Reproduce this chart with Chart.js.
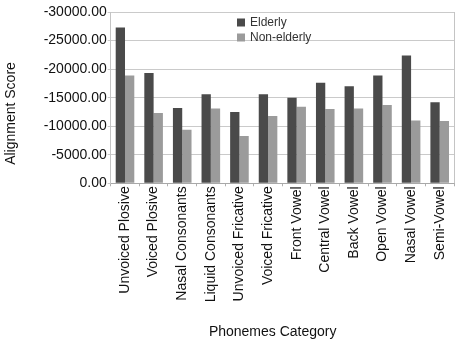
<!DOCTYPE html>
<html><head><meta charset="utf-8">
<script src="https://cdn.jsdelivr.net/npm/chart.js@4"></script>
<style>html,body{margin:0;padding:0;background:#fff;}#wrap{width:457px;height:342px;position:relative;}</style>
</head><body><div id="wrap"><canvas id="c" width="457" height="342"></canvas></div>
<script>
const categories = ["Unvoiced Plosive","Voiced Plosive","Nasal Consonants","Liquid Consonants","Unvoiced Fricative","Voiced Fricative","Front Vowel","Central Vowel","Back Vowel","Open Vowel","Nasal Vowel","Semi-Vowel"];
const elderly = [-27300,-19300,-13200,-15600,-12500,-15600,-15000,-17600,-17000,-18900,-22400,-14200];
const nonElderly = [-18900,-12300,-9400,-13100,-8300,-11800,-13400,-13000,-13100,-13700,-11000,-10900];
const seriesNames = ["Elderly","Non-elderly"];
const xTitle = "Phonemes Category";
const yTitle = "Alignment Score";

Chart.defaults.font.family = "'Liberation Sans', Arial, sans-serif";
Chart.defaults.color = "#111";

const decor = {
  id: 'decor',
  afterDraw(chart) {
    const ctx = chart.ctx, a = chart.chartArea;
    ctx.save();
    // right border
    ctx.strokeStyle = '#c4c4c4'; ctx.lineWidth = 1;
    ctx.beginPath(); ctx.moveTo(Math.round(a.right)+0.5, a.top); ctx.lineTo(Math.round(a.right)+0.5, a.bottom); ctx.stroke();
    // legend
    ctx.font = "12px 'Liberation Sans', Arial, sans-serif";
    ctx.textBaseline = 'middle'; ctx.textAlign = 'left';
    const ds = chart.data.datasets;
    const lx = 237, ly = [22.5, 37.5];
    ds.forEach((d, i) => {
      ctx.fillStyle = d.backgroundColor;
      ctx.fillRect(lx, ly[i]-4, 8, 8);
      ctx.fillStyle = '#333';
      ctx.fillText(d.label, lx + 13, ly[i]);
    });
    // axis titles
    ctx.fillStyle = '#111';
    ctx.font = "14px 'Liberation Sans', Arial, sans-serif";
    ctx.textAlign = 'center';
    ctx.fillText(xTitle, 272.7, 332);
    ctx.translate(11, 113.5); ctx.rotate(-Math.PI/2);
    ctx.fillText(yTitle, 0, 0);
    ctx.restore();
  }
};

new Chart(document.getElementById('c'), {
  type: 'bar',
  data: {
    labels: categories,
    datasets: [
      {label: seriesNames[0], data: elderly, backgroundColor: '#4a4a4a', categoryPercentage: 0.65, barPercentage: 1.0},
      {label: seriesNames[1], data: nonElderly, backgroundColor: '#9b9b9b', categoryPercentage: 0.65, barPercentage: 1.0}
    ]
  },
  options: {
    responsive: false, animation: false,
    layout: {padding: {top: 12, right: 3, left: 0, bottom: 0}},
    plugins: {legend: {display: false}, tooltip: {enabled: false}},
    scales: {
      x: {
        grid: {display: true, drawOnChartArea: false, tickLength: 3, color: '#b0b0b0'},
        border: {color: '#a8a8a8'},
        ticks: {maxRotation: 90, minRotation: 90, padding: 0, font: {size: 14}, color: '#111', autoSkip: false},
        afterFit(s) { s.height = 158.7; }
      },
      y: {
        reverse: true, min: -30000, max: 0,
        grid: {color: '#cacaca', tickLength: 3},
        border: {color: '#c4c4c4'},
        ticks: {stepSize: 2500, padding: 1, font: {size: 14}, color: '#111',
          callback: v => (v % 5000 === 0) ? v.toFixed(2) : ''},
        afterFit(s) { s.width = 110.7; }
      }
    }
  },
  plugins: [decor]
});
</script></body></html>
